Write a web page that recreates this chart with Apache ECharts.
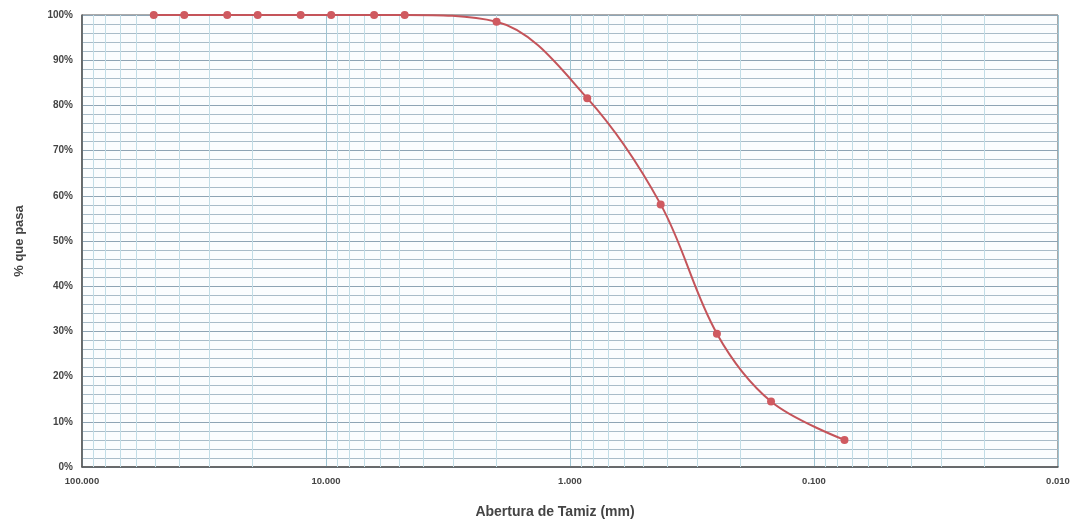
<!DOCTYPE html>
<html><head><meta charset="utf-8">
<script src="https://cdn.jsdelivr.net/npm/echarts@6/dist/echarts.min.js"></script>
<style>html,body{margin:0;padding:0;background:#fff}#c{width:1073px;height:522px}</style>
</head><body><div id="c"></div>
<script>
// Sieve openings (mm) and percent passing
const sieveOpenings = [50.8, 38.1, 25.4, 19.05, 12.7, 9.525, 6.35, 4.76, 2.0, 0.85, 0.425, 0.25, 0.15, 0.075];
const percentPassing = [100, 100, 100, 100, 100, 100, 100, 100, 98.5, 81.6, 58.1, 29.5, 14.5, 6.0];
const xTickValues = [100, 10, 1, 0.1, 0.01];
const yTickLabels = ['0%','10%','20%','30%','40%','50%','60%','70%','80%','90%','100%'];

// minor log gridlines (2..9 within each decade)
const minorGrid = [];
[0.01, 0.1, 1, 10].forEach(function (d) {
  for (let k = 2; k <= 9; k++) minorGrid.push({ xAxis: +(k * d).toPrecision(6) });
});

const chart = echarts.init(document.getElementById('c'));
const font = 'Liberation Sans, Arial, sans-serif';
chart.setOption({
  animation: false,
  backgroundColor: '#ffffff',
  grid: { left: 82, right: 15, top: 15, bottom: 55, containLabel: false, outerBoundsMode: 'none',
    show: true, borderColor: '#555', borderWidth: 1, backgroundColor: '#fbfdfe' },
  xAxis: {
    type: 'log', logBase: 10, min: 0.01, max: 100, inverse: true,
    name: 'Abertura de Tamiz (mm)', nameLocation: 'middle', nameGap: 38,
    nameTextStyle: { fontFamily: font, fontWeight: 'bold', fontSize: 14, color: '#444', padding: [0, 30, 0, 0] },
    axisLine: { show: true, lineStyle: { color: '#555', width: 1.5 } },
    axisTick: { show: false },
    axisLabel: { fontFamily: font, fontWeight: 'bold', fontSize: 9.5, color: '#444', margin: 9,
      formatter: function (v) { return Number(v).toFixed(3); } },
    splitLine: { show: true, lineStyle: { color: '#9fc4d2', width: 1 } },
    minorTick: { show: false }, minorSplitLine: { show: false }
  },
  yAxis: {
    type: 'value', min: 0, max: 100, interval: 10,
    name: '% que pasa', nameLocation: 'middle', nameGap: 56, nameRotate: 90,
    nameTextStyle: { fontFamily: font, fontWeight: 'bold', fontSize: 13, color: '#444' },
    axisLine: { show: true, lineStyle: { color: '#555', width: 1.5 } },
    axisTick: { show: false },
    axisLabel: { fontFamily: font, fontWeight: 'bold', fontSize: 10, color: '#444', margin: 9,
      formatter: function (v) { return yTickLabels[Math.round(v / 10)]; } },
    splitLine: { show: true, lineStyle: { color: '#8ea4b4', width: 1 } },
    minorTick: { show: false, splitNumber: 5 },
    minorSplitLine: { show: true, lineStyle: { color: '#a9bcc8', width: 1 } }
  },
  series: [
    {
      type: 'line', data: [], silent: true,
      markLine: { silent: true, symbol: 'none', label: { show: false },
        lineStyle: { color: '#c2dde6', width: 1, type: 'solid' }, data: minorGrid, animation: false }
    },
    {
      type: 'line', smooth: 0.35,
      data: sieveOpenings.map(function (s, i) { return [s, percentPassing[i]]; }),
      symbol: 'circle', symbolSize: 8,
      lineStyle: { color: '#c4545a', width: 2 },
      itemStyle: { color: '#cf5a60' }, z: 5
    }
  ]
});
</script></body></html>
